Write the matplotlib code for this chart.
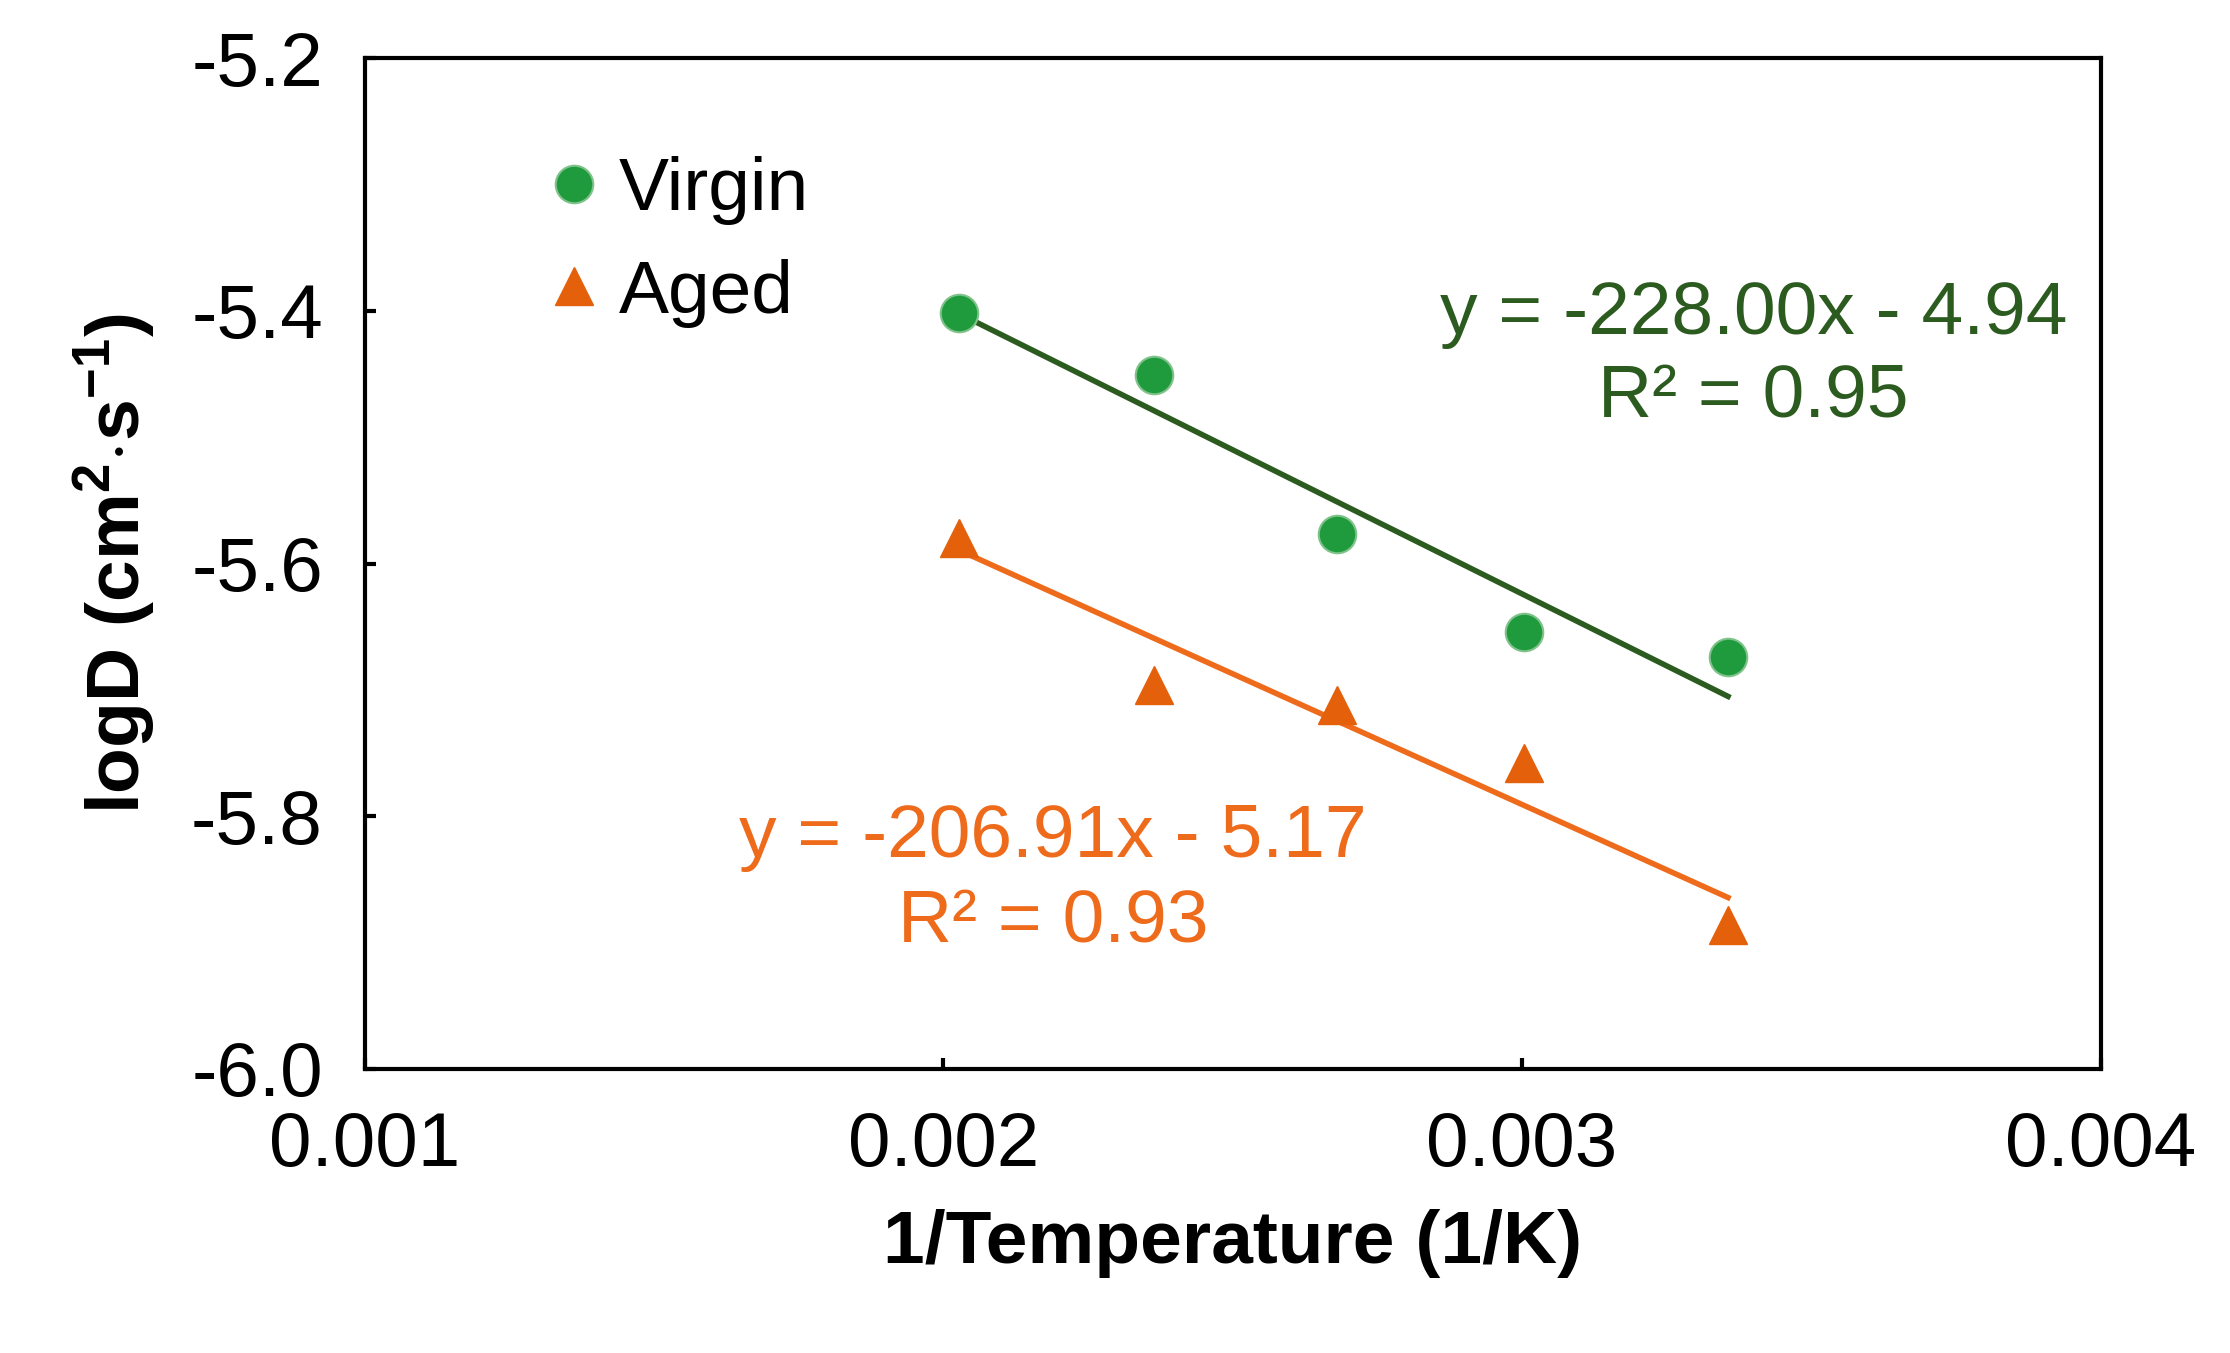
import matplotlib
matplotlib.use("Agg")
import matplotlib.pyplot as plt
import numpy as np

plt.rcParams["font.family"] = "Liberation Sans"
plt.rcParams["mathtext.fontset"] = "custom"
plt.rcParams["mathtext.rm"] = "Liberation Sans"
plt.rcParams["mathtext.bf"] = "Liberation Sans:bold"

inv_T = [0.002028, 0.002364, 0.002681, 0.003003, 0.003356]
virgin = [-5.402, -5.451, -5.577, -5.654, -5.674]
aged = [-5.580, -5.696, -5.712, -5.758, -5.886]
fit_virgin = (-228.00, -4.94)
fit_aged = (-206.91, -5.17)

fig = plt.figure(figsize=(22.30, 13.53), dpi=100)
ax = fig.add_axes([0.1635, 0.21, 0.7785, 0.747])

green_m, green_l = "#1f9a3c", "#2c5b1f"
orange_m, orange_l = "#e4600a", "#ee6b1c"

xs = np.array([inv_T[0], inv_T[-1]])
ax.plot(xs, fit_virgin[0]*xs + fit_virgin[1], color=green_l, lw=4, zorder=2)
ax.plot(xs, fit_aged[0]*xs + fit_aged[1], color=orange_l, lw=4, zorder=2)
ax.plot(inv_T, virgin, "o", ms=27, color=green_m, mec="#7fc28a", mew=1.5, ls="none", label="Virgin", zorder=3)
ax.plot(inv_T, aged, "^", ms=27, color=orange_m, mec=orange_m, ls="none", label="Aged", zorder=3)

ax.set_xlim(0.001, 0.004)
ax.set_ylim(-6.0, -5.2)
ax.set_xticks([0.001, 0.002, 0.003, 0.004])
ax.set_xticklabels(["0.001", "0.002", "0.003", "0.004"])
ax.set_yticks([-6.0, -5.8, -5.6, -5.4, -5.2])
ax.set_yticklabels(["-6.0", "-5.8", "-5.6", "-5.4", "-5.2"])
ax.tick_params(labelsize=55, width=3, length=8, direction="in", pad=30)
for s in ax.spines.values():
    s.set_linewidth(3)

ax.set_xlabel("1/Temperature (1/K)", fontsize=54, fontweight="bold", labelpad=20)
ax.set_ylabel("logD (cm$^{\\mathbf{2}}$$\\mathbf{\\cdot}$s$^{\\mathbf{-1}}$)", fontsize=54, fontweight="bold", labelpad=24)

ax.text(0.00340, -5.403, "y = -228.00x - 4.94", color=green_l, fontsize=54, ha="center", va="center")
ax.text(0.00340, -5.468, "R² = 0.95", color=green_l, fontsize=54, ha="center", va="center")
ax.text(0.00219, -5.817, "y = -206.91x - 5.17", color=orange_l, fontsize=54, ha="center", va="center")
ax.text(0.00219, -5.884, "R² = 0.93", color=orange_l, fontsize=54, ha="center", va="center")

ax.legend(loc="upper left", bbox_to_anchor=(0.06, 0.97), frameon=False, fontsize=54,
          handletextpad=0.1, labelspacing=0.45, markerscale=1.0, handlelength=1.0)

fig.savefig("out.png", dpi=100)
